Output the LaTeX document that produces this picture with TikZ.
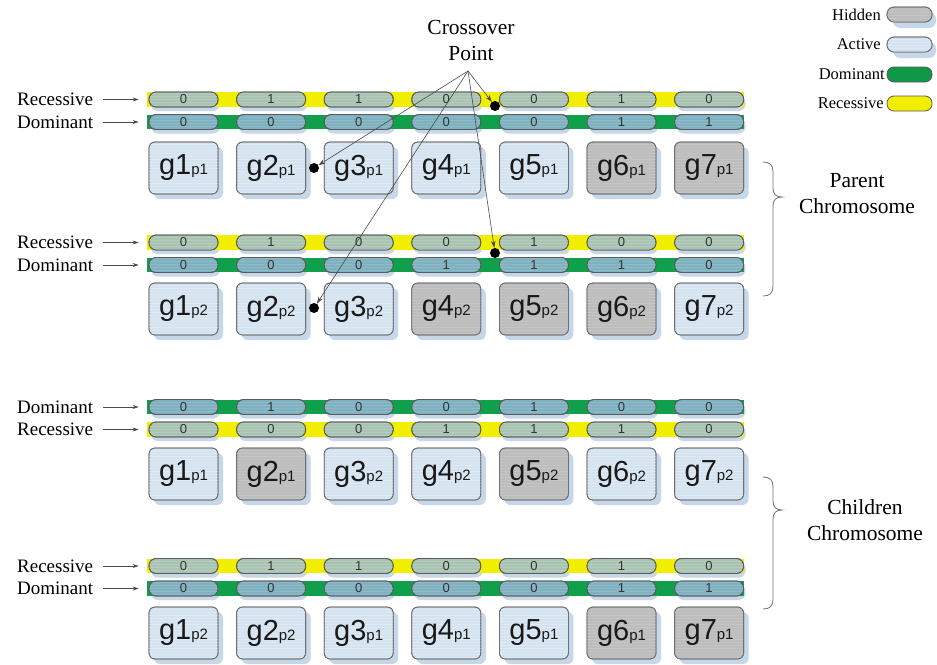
\documentclass[tikz,border=0pt]{standalone}
\usepackage{fontspec}
\setmainfont{Liberation Serif}
\newfontfamily\arialf{Liberation Sans}
\usetikzlibrary{patterns,arrows.meta,shadows}
\definecolor{ystripc}{HTML}{F2EE00}
\definecolor{gstripc}{HTML}{10A04C}
\definecolor{recpillc}{HTML}{AAC4B4}
\definecolor{dompillc}{HTML}{7FB1C0}
\definecolor{activec}{HTML}{D5E3F0}
\definecolor{hiddenc}{HTML}{BDBDBD}
\definecolor{shadowc}{HTML}{C6D7EA}
\definecolor{boxborderc}{HTML}{707070}
\definecolor{pillborderc}{HTML}{5A5A5A}
\definecolor{arrowc}{HTML}{4A4A4A}
\definecolor{textgray}{HTML}{333333}
\tikzset{
  pill/.style={rectangle, rounded corners=7pt, minimum width=69pt, minimum height=15pt,
    inner sep=0pt, draw=pillborderc, line width=0.8pt, text=textgray,
    font=\arialf\fontsize{13}{13}\selectfont},
  recpill/.style={fill=recpillc, postaction={pattern=horizontal lines, pattern color=recpillc!88!white},
    postaction={draw=pillborderc, line width=0.8pt}},
  dompill/.style={fill=dompillc, postaction={pattern=horizontal lines, pattern color=dompillc!88!white},
    postaction={draw=pillborderc, line width=0.8pt}},
  recstrip/.style={fill=ystripc},
  domstrip/.style={fill=gstripc},
  genebox/.style={rectangle, rounded corners=6pt, minimum width=69pt, minimum height=52pt,
    inner sep=0pt, draw=boxborderc, line width=0.8pt, text=black!90, font=\arialf,
    drop shadow={shadow xshift=5pt, shadow yshift=-5pt, fill=shadowc, opacity=1}},
  gactive/.style={fill=activec, postaction={pattern=horizontal lines, pattern color=activec!80!white},
    postaction={draw=boxborderc, line width=0.8pt}},
  ghidden/.style={fill=hiddenc, postaction={pattern=horizontal lines, pattern color=hiddenc!90!white},
    postaction={draw=boxborderc, line width=0.8pt}},
  sidelab/.style={anchor=west, inner sep=0pt, font=\fontsize{19}{19}\selectfont},
  sidearrow/.style={-{Stealth[length=6pt,width=4pt]}, draw=arrowc, line width=0.7pt},
  bigtext/.style={align=center, inner sep=0pt, font=\fontsize{21.5}{26}\selectfont},
  legtext/.style={anchor=east, inner sep=0pt, font=\fontsize{16.5}{17}\selectfont},
  legpill/.style={rectangle, rounded corners=7pt, minimum width=45pt, minimum height=15pt,
    inner sep=0pt, draw=pillborderc, line width=0.8pt},
  xdot/.style={circle, fill=black, minimum size=10pt, inner sep=0pt},
  xarrow/.style={-{Stealth[length=7pt,width=4.5pt]}, draw=arrowc, line width=0.6pt},
  bracec/.style={draw=black!55, line width=0.8pt}
}
% chromosome bar: #1 name prefix, #2 y centre, #3 rec/dom, #4 values
\newcommand{\chbar}[4]{%
  \foreach \v [count=\i] in {#4} {
    \fill[shadowc, rounded corners=7pt] ({149+(\i-1)*87.6+2},{#2-7.5+4}) rectangle ({218+(\i-1)*87.6+2},{#2+7.5+4});
  }
  \fill[#3strip] (147,{#2-7.3}) rectangle (744,{#2+7.3});
  \foreach \v [count=\i] in {#4} {
    \node[pill,#3pill] (#1\i) at ({183.5+(\i-1)*87.6},#2) {\v};
  }
}
% gene boxes: #1 prefix, #2 top y, #3 list n/p/style
\newcommand{\genes}[3]{%
  \foreach \n/\p/\t [count=\i] in {#3} {
    \node[genebox,\t] (#1\i) at ({183.5+(\i-1)*87.6},{#2+26}) {{\fontsize{29}{29}\selectfont g\n}{\fontsize{15}{15}\selectfont \p}};
  }
}
\begin{document}
\begin{tikzpicture}[x=1pt,y=-1pt]
\useasboundingbox (0,0) rectangle (937,664);
\fill[white] (0,0) rectangle (937,664);

% ---------- Parent 1 ----------
\chbar{pa}{99.5}{rec}{0,1,1,0,0,1,0}
\chbar{pb}{122}{dom}{0,0,0,0,0,1,1}
\genes{pg}{142}{1/p1/gactive,2/p1/gactive,3/p1/gactive,4/p1/gactive,5/p1/gactive,6/p1/ghidden,7/p1/ghidden}
\node[sidelab] (la1) at (17,99.5) {Recessive};
\node[sidelab] (lb1) at (17,122) {Dominant};
\draw[sidearrow] ([xshift=10pt]la1.east) -- ([xshift=-10pt]pa1.west);
\draw[sidearrow] ([xshift=10pt]lb1.east |- pb1.west) -- ([xshift=-10pt]pb1.west);

% ---------- Parent 2 ----------
\chbar{qa}{242.5}{rec}{0,1,0,0,1,0,0}
\chbar{qb}{265}{dom}{0,0,0,1,1,1,0}
\genes{qg}{283}{1/p2/gactive,2/p2/gactive,3/p2/gactive,4/p2/ghidden,5/p2/ghidden,6/p2/ghidden,7/p2/gactive}
\node[sidelab] (la2) at (17,242.5) {Recessive};
\node[sidelab] (lb2) at (17,265) {Dominant};
\draw[sidearrow] ([xshift=10pt]la2.east) -- ([xshift=-10pt]qa1.west);
\draw[sidearrow] ([xshift=10pt]lb2.east |- qb1.west) -- ([xshift=-10pt]qb1.west);

% ---------- Child 1 ----------
\chbar{ca}{407}{dom}{0,1,0,0,1,0,0}
\chbar{cb}{429.5}{rec}{0,0,0,1,1,1,0}
\genes{cg}{448}{1/p1/gactive,2/p1/ghidden,3/p2/gactive,4/p2/gactive,5/p2/ghidden,6/p2/gactive,7/p2/gactive}
\node[sidelab] (la3) at (17,407) {Dominant};
\node[sidelab] (lb3) at (17,429.5) {Recessive};
\draw[sidearrow] ([xshift=10pt]lb3.east |- ca1.west) -- ([xshift=-10pt]ca1.west);
\draw[sidearrow] ([xshift=10pt]lb3.east) -- ([xshift=-10pt]cb1.west);

% ---------- Child 2 ----------
\chbar{da}{566}{rec}{0,1,1,0,0,1,0}
\chbar{db}{588.5}{dom}{0,0,0,0,0,1,1}
\genes{dg}{607}{1/p2/gactive,2/p2/gactive,3/p1/gactive,4/p1/gactive,5/p1/gactive,6/p1/ghidden,7/p1/ghidden}
\node[sidelab] (la4) at (17,566) {Recessive};
\node[sidelab] (lb4) at (17,588.5) {Dominant};
\draw[sidearrow] ([xshift=10pt]la4.east) -- ([xshift=-10pt]da1.west);
\draw[sidearrow] ([xshift=10pt]la4.east |- db1.west) -- ([xshift=-10pt]db1.west);

% ---------- Crossover ----------
\node[bigtext] (cp) at (471,40) {Crossover\\Point};
\coordinate (co) at (468,71);
\node[xdot] (x1) at (495,106) {};
\node[xdot] (x2) at (314,168) {};
\node[xdot] (x3) at (495,253) {};
\node[xdot] (x4) at (314,308) {};
\draw[xarrow] (co) -- (x1);
\draw[xarrow] (co) -- (x2);
\draw[xarrow] (co) -- (x3);
\draw[xarrow] (co) -- (x4);

% ---------- Braces & labels ----------
\draw[bracec] (763,162) .. controls (770,162) and (773,165) .. (773,172) -- (773,188)
  .. controls (773,194) and (776,197) .. (782,197)
  .. controls (776,197) and (773,200) .. (773,206) -- (773,286)
  .. controls (773,293) and (770,296) .. (763,296);
\node[bigtext] (parent) at (857,194) {Parent\\Chromosome};
\draw[bracec] (763,477) .. controls (770,477) and (773,480) .. (773,487) -- (773,501)
  .. controls (773,507) and (776,510) .. (782,510)
  .. controls (776,510) and (773,513) .. (773,519) -- (773,599)
  .. controls (773,606) and (770,609) .. (763,609);
\node[bigtext] (children) at (865,520) {Children\\Chromosome};

% ---------- Legend ----------
\fill[shadowc, rounded corners=7pt] (893,12) rectangle (936,28);
\node[legpill, draw=boxborderc, fill=hiddenc, postaction={pattern=horizontal lines, pattern color=hiddenc!90!white}, postaction={draw=boxborderc, line width=0.8pt}] (lh) at (909.5,14.5) {};
\node[legtext] (lht) at (881,14.5) {Hidden};
\fill[shadowc, rounded corners=7pt] (893,42) rectangle (936,58);
\node[legpill, gactive, draw=boxborderc] (la) at (909.5,44.5) {};
\node[legtext] (lat) at (881,44.5) {Active};
\node[legpill, fill=gstripc!95!black] (ld) at (909.5,74.5) {};
\node[legtext] (ldt) at (885,74.5) {Dominant};
\node[legpill, fill=ystripc] (lr) at (909.5,103.5) {};
\node[legtext] (lrt) at (884,103.5) {Recessive};
\end{tikzpicture}
\end{document}
